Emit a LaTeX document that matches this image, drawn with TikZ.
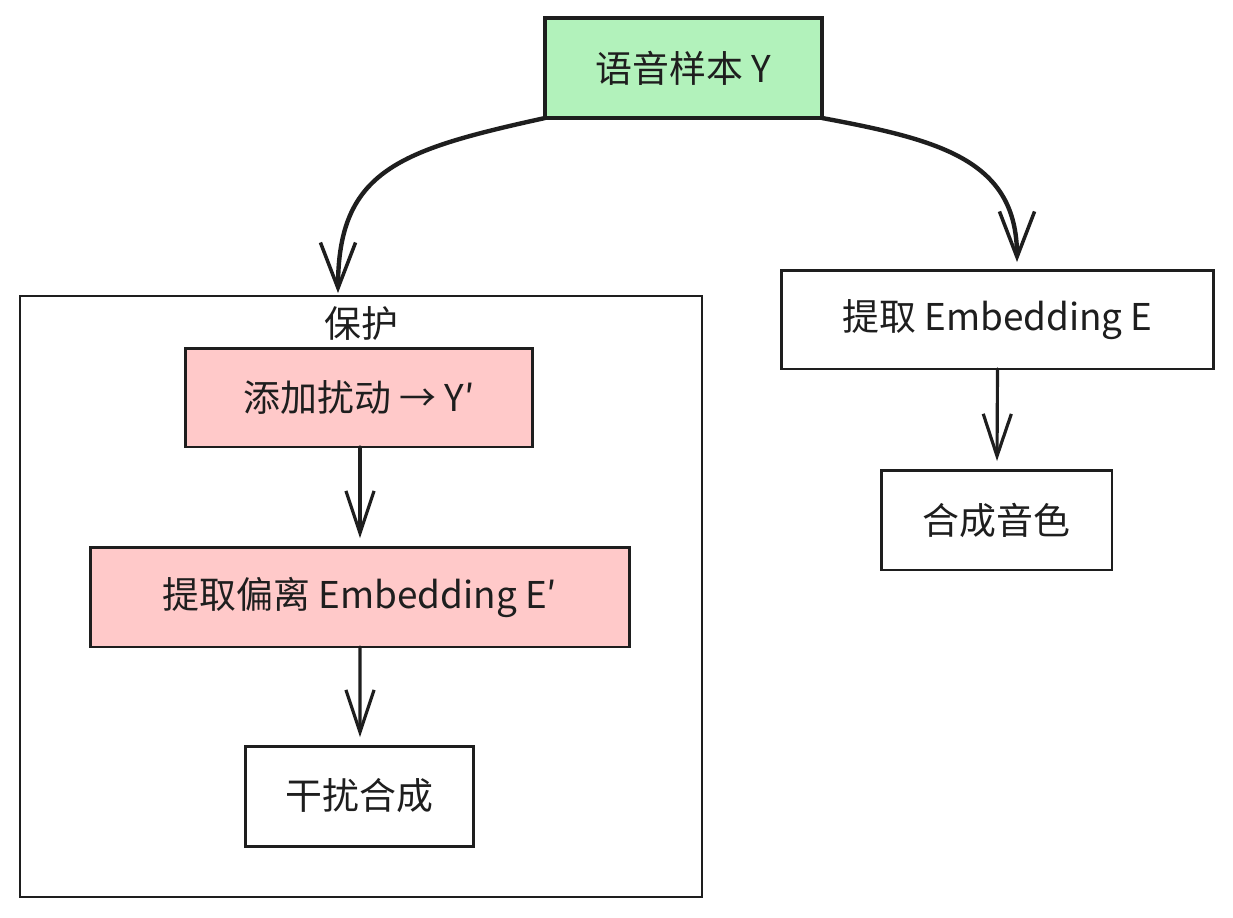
\documentclass[tikz,border=0pt]{standalone}
\usepackage{fontspec}
\setmainfont{Noto Sans CJK SC}
\usetikzlibrary{arrows.meta,calc}
\definecolor{ink}{HTML}{1E1E1E}
\definecolor{mint}{HTML}{B2F2BB}
\definecolor{rose}{HTML}{FFC9C9}
\begin{document}
\begin{tikzpicture}[x=0.02cm,y=-0.02cm,
  label text/.style={font=\fontsize{21pt}{24pt}\selectfont,text=ink},
  box/.style={draw=ink,line width=1.7pt,inner sep=0pt,outer sep=0pt,label text},
  source/.style={box,fill=mint,line width=2.4pt},
  perturb/.style={box,fill=rose},
  plain/.style={box,fill=white},
  frame/.style={draw=ink,line width=1.4pt,inner sep=0pt,outer sep=0pt},
  flow/.style={draw=ink,line width=1.8pt,line cap=round,
    -{Straight Barb[length=24pt,width=16pt,line width=1.8pt]}},
  branch/.style={flow,line width=2.5pt,
    -{Straight Barb[length=26pt,width=20pt,line width=2pt]}}]
\useasboundingbox (0,0) rectangle (1233,917);

% protection group
\node[frame,minimum width=13.64cm,minimum height=12.02cm] (guard) at (361,596.5) {};
\node[label text,anchor=north,inner sep=0pt]
  (guardlabel) at ($(guard.north)+(0,10)$) {保护};

% nodes
\node[source,minimum width=5.54cm,minimum height=2cm] (sample) at (683.5,68) {语音样本 Y};
\node[perturb,minimum width=6.96cm,minimum height=1.98cm] (noise) at (359,397.5) {添加扰动 → Y′};
\node[perturb,minimum width=10.8cm,minimum height=2cm] (shifted) at (360,597) {提取偏离 Embedding E′};
\node[plain,minimum width=4.58cm,minimum height=2cm] (jam) at (359.5,796) {干扰合成};
\node[plain,minimum width=8.66cm,minimum height=1.98cm] (embed) at (997.5,319.5) {提取 Embedding E};
\node[plain,minimum width=4.62cm,minimum height=2cm] (timbre) at (996.5,520) {合成音色};

% curved branches from the sample
\draw[branch] (sample.south west) .. controls (400,150) and (338,170) .. ($(guard.north)+(-23,-3)$);
\draw[branch] (sample.south east) .. controls (940,140) and (1017,160) .. ($(embed.north)+(19.5,-8)$);

% straight links
\draw[flow] ($(noise.south)+(1,0)$) -- ($(shifted.north)+(0,-9)$);
\draw[flow] (shifted.south) -- ($(jam.north)+(0.5,-9)$);
\draw[flow] (embed.south) -- ($(timbre.north)+(0.5,-9)$);
\end{tikzpicture}
\end{document}
